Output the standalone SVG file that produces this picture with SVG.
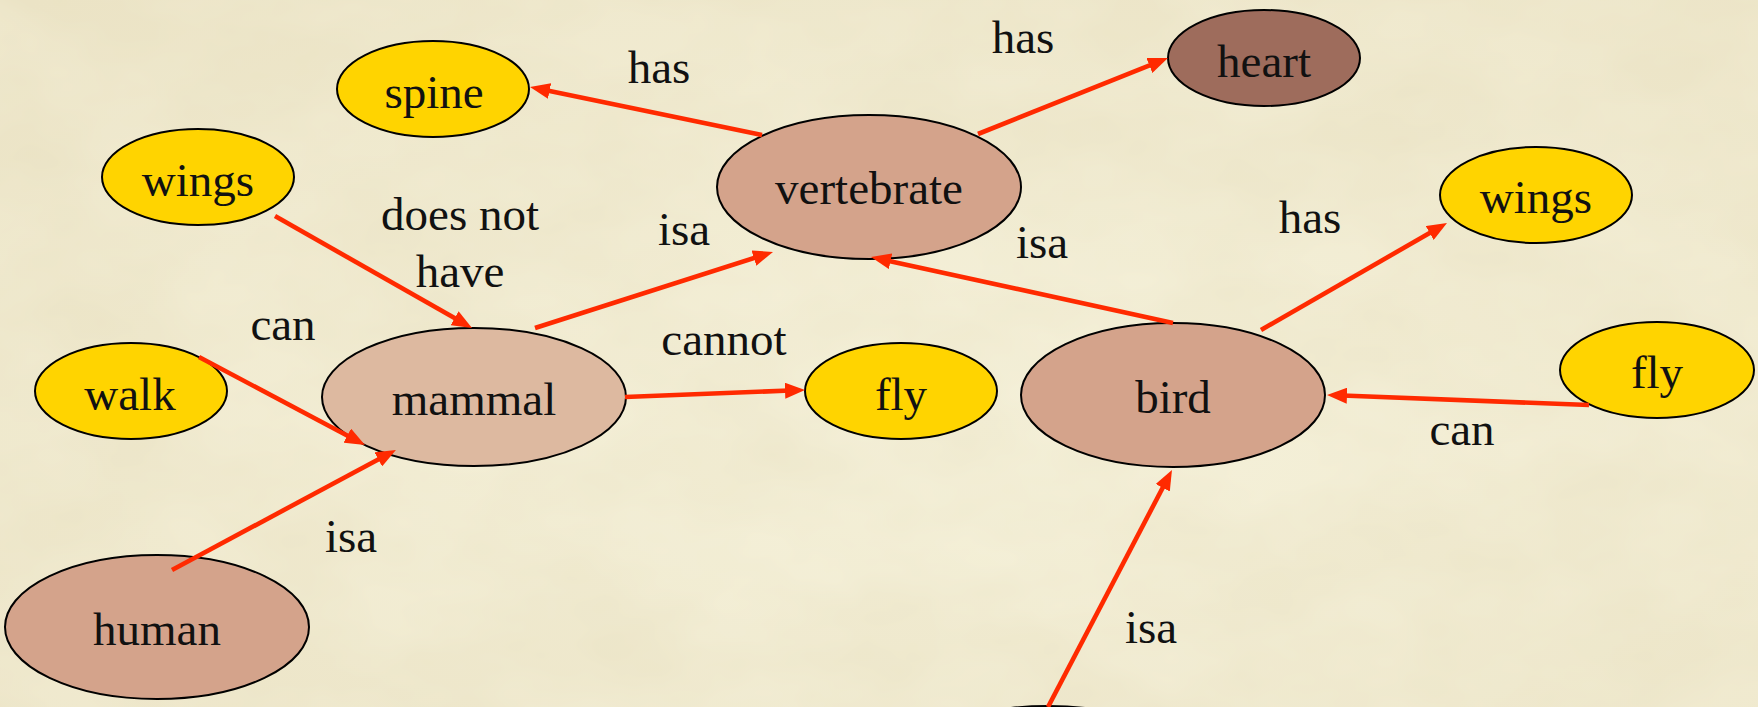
<svg xmlns="http://www.w3.org/2000/svg" width="1758" height="707" viewBox="0 0 1758 707">
  <defs>
    <style>
      .node { stroke: #000; stroke-width: 2; }
      .prop { fill: #FFD400; }
      .cls { fill: #D4A38B; }
      .light { fill: #DDB9A0; }
      .dark { fill: #9E6C5C; }
      .lbl { font-family: 'Liberation Serif', 'Times New Roman', serif; font-size: 47px; fill: #111; text-anchor: middle; }
      .edge { stroke: #FF2A00; stroke-width: 4.6; fill: none; marker-end: url(#head); }
    </style>
    <marker id="head" markerUnits="userSpaceOnUse" markerWidth="20" markerHeight="16" refX="11" refY="8" orient="auto">
      <path d="M0,0 L20,8 L0,16 Z" fill="#FF2A00"/>
    </marker>
    <filter id="paper" x="0" y="0" width="100%" height="100%">
      <feTurbulence type="fractalNoise" baseFrequency="0.006 0.01" numOctaves="4" seed="7"/>
      <feColorMatrix type="matrix" values="0 0 0 0 0.6  0 0 0 0 0.5  0 0 0 0 0.25  0 0 0 0.2 -0.05"/>
    </filter>
    <radialGradient id="bg" cx="55%" cy="60%" r="80%">
      <stop offset="0" stop-color="#F5F1DA"/>
      <stop offset="1" stop-color="#EEE7CB"/>
    </radialGradient>
  </defs>

  <!-- parchment background -->
  <rect width="1758" height="707" fill="url(#bg)"/>
  <rect width="1758" height="707" filter="url(#paper)"/>

  <!-- nodes -->
  <g id="spine"><ellipse class="node prop" cx="433" cy="89" rx="96" ry="48"/><text class="lbl" x="434" y="108">spine</text></g>
  <g id="heart"><ellipse class="node dark" cx="1264" cy="58" rx="96" ry="48"/><text class="lbl" x="1264" y="77">heart</text></g>
  <g id="wings-left"><ellipse class="node prop" cx="198" cy="177" rx="96" ry="48"/><text class="lbl" x="198" y="196">wings</text></g>
  <g id="vertebrate"><ellipse class="node cls" cx="869" cy="187" rx="152" ry="72"/><text class="lbl" x="869" y="204">vertebrate</text></g>
  <g id="wings-right"><ellipse class="node prop" cx="1536" cy="195" rx="96" ry="48"/><text class="lbl" x="1536" y="213">wings</text></g>
  <g id="walk"><ellipse class="node prop" cx="131" cy="391" rx="96" ry="48"/><text class="lbl" x="130" y="410">walk</text></g>
  <g id="mammal"><ellipse class="node light" cx="474" cy="397" rx="152" ry="69"/><text class="lbl" x="474" y="415">mammal</text></g>
  <g id="fly-middle"><ellipse class="node prop" cx="901" cy="391" rx="96" ry="48"/><text class="lbl" x="901" y="410">fly</text></g>
  <g id="bird"><ellipse class="node cls" cx="1173" cy="395" rx="152" ry="72"/><text class="lbl" x="1173" y="413">bird</text></g>
  <g id="fly-right"><ellipse class="node prop" cx="1657" cy="370" rx="97" ry="48"/><text class="lbl" x="1657" y="388">fly</text></g>
  <g id="human"><ellipse class="node cls" cx="157" cy="627" rx="152" ry="72"/><text class="lbl" x="157" y="645">human</text></g>
  <g id="lower-node"><ellipse class="node cls" cx="1048" cy="778" rx="152" ry="72"/></g>

  <!-- connectors -->
  <g id="connectors">
    <line class="edge" x1="762" y1="135" x2="538.8" y2="88.8"/>
    <line class="edge" x1="978" y1="134" x2="1159.6" y2="61.4"/>
    <line class="edge" x1="275" y1="216" x2="464.2" y2="323.6"/>
    <line class="edge" x1="535" y1="328" x2="764.4" y2="254.7"/>
    <line class="edge" x1="1173" y1="323" x2="879.8" y2="258.9"/>
    <line class="edge" x1="1261" y1="330" x2="1439.2" y2="227.5"/>
    <line class="edge" x1="199" y1="357" x2="357" y2="440.8"/>
    <line class="edge" x1="172" y1="570" x2="388" y2="454.2"/>
    <line class="edge" x1="625" y1="397" x2="796" y2="390.3"/>
    <line class="edge" x1="1589" y1="405" x2="1336" y2="395.3"/>
    <line class="edge" x1="1048" y1="707" x2="1167.8" y2="478"/>
  </g>

  <!-- connector labels -->
  <g id="edge-labels">
    <text class="lbl" x="1023" y="53">has</text>
    <text class="lbl" x="659" y="83">has</text>
    <text class="lbl" x="460" y="230">does not</text>
    <text class="lbl" x="460" y="287">have</text>
    <text class="lbl" x="684" y="245">isa</text>
    <text class="lbl" x="1042" y="258">isa</text>
    <text class="lbl" x="1310" y="233">has</text>
    <text class="lbl" x="283" y="340">can</text>
    <text class="lbl" x="724" y="355">cannot</text>
    <text class="lbl" x="1462" y="445">can</text>
    <text class="lbl" x="351" y="552">isa</text>
    <text class="lbl" x="1151" y="643">isa</text>
  </g>
</svg>
